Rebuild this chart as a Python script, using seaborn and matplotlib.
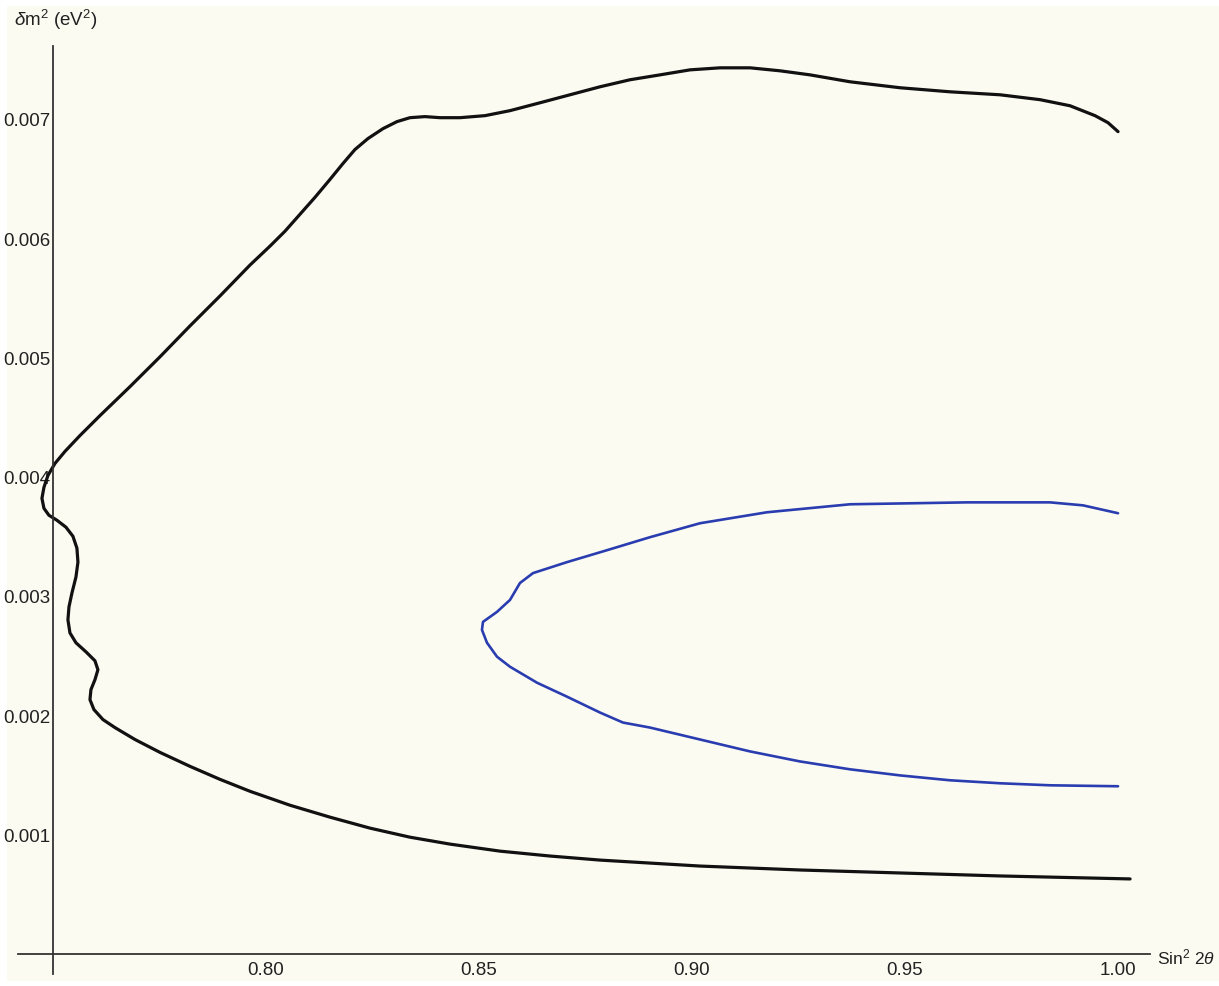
import matplotlib
matplotlib.use("Agg")
import matplotlib.pyplot as plt
from matplotlib.patches import Rectangle
from matplotlib.ticker import MultipleLocator, FixedLocator
import seaborn as sns
import pandas as pd

# Outer (black) contour, traced from the upper right end, around the left wiggles,
# and back out along the lower branch.
outer_sin2 = [1.00000, 0.99765, 0.99460, 0.98873, 0.98169, 0.97230, 0.96056, 0.94883,
              0.93709, 0.92770, 0.92066, 0.91362, 0.90657, 0.89953, 0.89249, 0.88545,
              0.87840, 0.87136, 0.86432, 0.85728, 0.85141, 0.84554, 0.84085, 0.83732,
              0.83380, 0.83075, 0.82746, 0.82394, 0.82089, 0.81808, 0.81502, 0.81150,
              0.80798, 0.80446, 0.80094, 0.79624, 0.78920, 0.78216, 0.77512, 0.76808,
              0.76103, 0.75634, 0.75282, 0.75047, 0.74883, 0.74789, 0.74742, 0.74789,
              0.74906, 0.75094, 0.75305, 0.75469, 0.75563, 0.75587, 0.75540, 0.75446,
              0.75376, 0.75352, 0.75399, 0.75540, 0.75775, 0.75986, 0.76056, 0.75986,
              0.75892, 0.75869, 0.75962, 0.76174, 0.76455, 0.76925, 0.77512, 0.78216,
              0.78920, 0.79624, 0.80563, 0.81502, 0.82441, 0.83380, 0.84319, 0.85493,
              0.86667, 0.87840, 0.90188, 0.92535, 0.94883, 0.97230, 1.00282]
outer_dm2 = [0.006892, 0.006967, 0.007026, 0.007109, 0.007160, 0.007201, 0.007226, 0.007260,
             0.007310, 0.007368, 0.007402, 0.007427, 0.007427, 0.007410, 0.007368, 0.007327,
             0.007268, 0.007201, 0.007134, 0.007068, 0.007026, 0.007009, 0.007009, 0.007018,
             0.007009, 0.006976, 0.006917, 0.006834, 0.006742, 0.006625, 0.006491, 0.006341,
             0.006199, 0.006057, 0.005932, 0.005773, 0.005514, 0.005263, 0.005004, 0.004754,
             0.004511, 0.004344, 0.004211, 0.004110, 0.004010, 0.003910, 0.003818, 0.003734,
             0.003676, 0.003634, 0.003576, 0.003500, 0.003400, 0.003283, 0.003158, 0.003024,
             0.002907, 0.002799, 0.002690, 0.002607, 0.002531, 0.002456, 0.002381, 0.002297,
             0.002214, 0.002130, 0.002047, 0.001963, 0.001896, 0.001796, 0.001688, 0.001571,
             0.001462, 0.001362, 0.001245, 0.001145, 0.001053, 0.000977, 0.000919, 0.000860,
             0.000819, 0.000785, 0.000735, 0.000702, 0.000677, 0.000652, 0.000627]

# Inner (blue) contour, from the upper right end round the nose and back.
inner_sin2 = [1.00000, 0.99178, 0.98404, 0.96455, 0.93709, 0.91761, 0.90188, 0.89014,
              0.88005, 0.87066, 0.86268, 0.85962, 0.85728, 0.85423, 0.85094, 0.85070,
              0.85188, 0.85423, 0.85728, 0.86362, 0.87066, 0.87840, 0.88380, 0.89014,
              0.90188, 0.91362, 0.92535, 0.93709, 0.94883, 0.96056, 0.97230, 0.98404,
              1.00000]
inner_dm2 = [0.003693, 0.003759, 0.003784, 0.003784, 0.003768, 0.003701, 0.003609, 0.003492,
             0.003383, 0.003283, 0.003191, 0.003108, 0.002966, 0.002866, 0.002782, 0.002715,
             0.002607, 0.002490, 0.002406, 0.002272, 0.002155, 0.002022, 0.001938, 0.001896,
             0.001796, 0.001696, 0.001612, 0.001546, 0.001495, 0.001454, 0.001429, 0.001412,
             0.001404]

x_major = [0.80, 0.85, 0.90, 0.95, 1.00]
x_labels = ["0.80", "0.85", "0.90", "0.95", "1.00"]
y_major = [0.001, 0.002, 0.003, 0.004, 0.005, 0.006, 0.007]
y_labels = ["0.001", "0.002", "0.003", "0.004", "0.005", "0.006", "0.007"]

sns.set_style("white")
plt.rcParams["font.family"] = ["Liberation Sans", "DejaVu Sans"]
plt.rcParams["mathtext.fontset"] = "custom"
plt.rcParams["mathtext.rm"] = "Liberation Sans"
plt.rcParams["mathtext.it"] = "Liberation Sans:italic"

cream = "#FCFBF2"
fig = plt.figure(figsize=(12.19, 9.87), dpi=100, facecolor="white")
fig.patches.append(Rectangle((7 / 1219, 5 / 987), 1 - 7 / 1219, 1 - 12 / 987,
                             transform=fig.transFigure, facecolor=cream,
                             edgecolor="none", zorder=-10))

ax = fig.add_axes([18 / 1219, 12 / 987, (1150 - 18) / 1219, (975 - 47) / 987])
ax.set_facecolor("none")

outer = pd.DataFrame({"sin2": outer_sin2, "dm2": outer_dm2})
inner = pd.DataFrame({"sin2": inner_sin2, "dm2": inner_dm2})
sns.lineplot(data=outer, x="sin2", y="dm2", sort=False, estimator=None,
             color="#111111", linewidth=2.3, ax=ax)
sns.lineplot(data=inner, x="sin2", y="dm2", sort=False, estimator=None,
             color="#2A3DB0", linewidth=1.9, ax=ax)

ax.set_xlim(0.7418, 1.0075)
ax.set_ylim(-0.00017, 0.00761)

for side in ("top", "right"):
    ax.spines[side].set_visible(False)
ax.spines["left"].set_position(("data", 0.75))
ax.spines["bottom"].set_position(("data", 0.0))
for side in ("left", "bottom"):
    ax.spines[side].set_color("#333333")
    ax.spines[side].set_linewidth(1.3)

ax.xaxis.set_major_locator(FixedLocator(x_major))
ax.set_xticklabels(x_labels)
ax.xaxis.set_minor_locator(MultipleLocator(0.01))
ax.yaxis.set_major_locator(FixedLocator(y_major))
ax.set_yticklabels(y_labels)
ax.yaxis.set_minor_locator(MultipleLocator(0.0002))

ax.tick_params(axis="both", which="major", direction="in", length=6, width=1.1,
               color="#333333", labelsize=13.5, labelcolor="#222222")
ax.tick_params(axis="both", which="minor", direction="in", length=3.5, width=1.0,
               color="#333333")
ax.tick_params(axis="x", which="major", pad=5)
ax.tick_params(axis="y", which="major", pad=2)

ax.set_xlabel("")
ax.set_ylabel("")

fig.text(14 / 1219, 1 - 20 / 987, r"$\mathit{\delta}\mathrm{m}^{2}\ \mathrm{(eV}^{2}\mathrm{)}$",
         fontsize=13.5, color="#222222", va="center", ha="left")
fig.text(1157 / 1219, 1 - 957 / 987, r"$\mathrm{Sin}^{2}\ \mathrm{2}\mathit{\theta}$",
         fontsize=12.5, color="#222222", va="center", ha="left")

fig.savefig("out.png", dpi=100, facecolor="white")
